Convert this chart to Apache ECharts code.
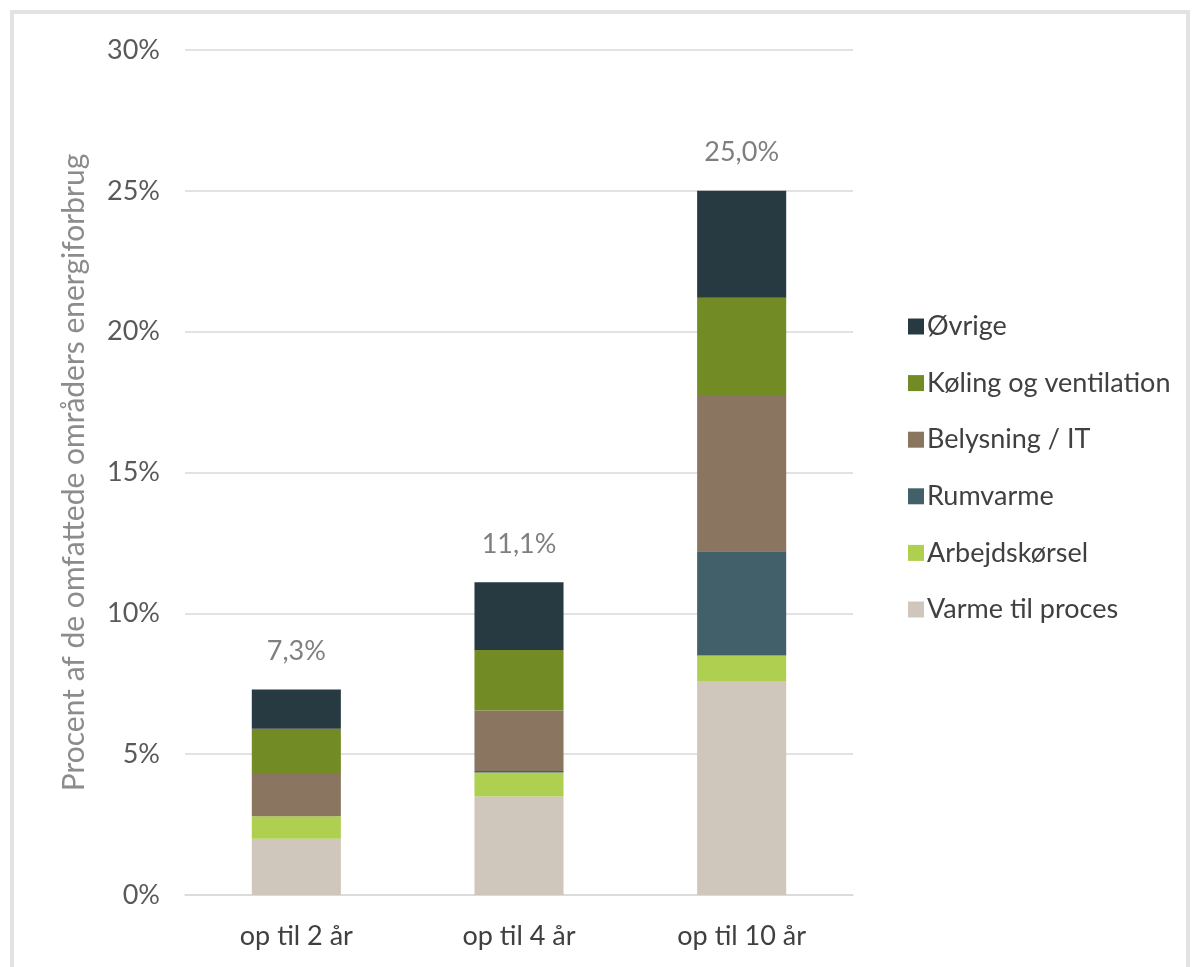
<!DOCTYPE html>
<html>
<head>
<meta charset="utf-8">
<script src="https://cdn.jsdelivr.net/npm/echarts@6/dist/echarts.min.js"></script>
<style>
html,body{margin:0;padding:0;background:#fff;}
#chart{width:1199px;height:967px;}
</style>
</head>
<body>
<div id="chart"></div>
<script>
const categories = ['op til 2 år', 'op til 4 år', 'op til 10 år'];
const varmeTilProces = [2.0, 3.5, 7.6];
const arbejdskorsel = [0.8, 0.85, 0.9];
const rumvarme = [0, 0.05, 3.7];
const belysningIT = [1.5, 2.15, 5.55];
const kolingVentilation = [1.6, 2.15, 3.45];
const ovrige = [1.4, 2.4, 3.8];
const yTicks = [0, 5, 10, 15, 20, 25, 30];

const seriesDefs = [
  {name: 'Varme til proces', data: varmeTilProces, color: '#CFC7BB'},
  {name: 'Arbejdskørsel', data: arbejdskorsel, color: '#AECF50'},
  {name: 'Rumvarme', data: rumvarme, color: '#42606A'},
  {name: 'Belysning / IT', data: belysningIT, color: '#8A7560'},
  {name: 'Køling og ventilation', data: kolingVentilation, color: '#728B24'},
  {name: 'Øvrige', data: ovrige, color: '#283A41'}
];
const totals = categories.map((c, i) => seriesDefs.reduce((s, d) => s + d.data[i], 0));

const FONT = 'Lato';
const FS = 27;
const chart = echarts.init(document.getElementById('chart'));
const series = seriesDefs.map((d, idx) => ({
  name: d.name,
  type: 'bar',
  stack: 'total',
  barWidth: '40%',
  data: d.data,
  itemStyle: {color: d.color},
  label: idx === seriesDefs.length - 1 ? {
    show: true,
    position: 'top',
    distance: 25,
    fontFamily: FONT,
    fontSize: FS,
    color: '#7F7F7F',
    formatter: p => totals[p.dataIndex].toFixed(1).replace('.', ',') + '%'
  } : {show: false}
}));

chart.setOption({
  animation: false,
  backgroundColor: '#fff',
  graphic: [{
    type: 'rect',
    shape: {x: 12, y: 12, width: 1176, height: 1000},
    style: {fill: 'none', stroke: '#E3E3E3', lineWidth: 4},
    silent: true
  }],
  grid: {left: 185, right: 346, top: 50, bottom: 72},
  legend: {
    orient: 'vertical',
    left: 903,
    top: 308,
    itemWidth: 16,
    itemHeight: 16,
    itemGap: 29.6,
    icon: 'rect',
    data: seriesDefs.map(d => d.name).reverse(),
    textStyle: {fontFamily: FONT, fontSize: FS, color: '#404040', lineHeight: 17, padding: [0, 0, 0, -2]}
  },
  xAxis: {
    type: 'category',
    data: categories,
    axisLine: {lineStyle: {color: '#D9D9D9', width: 1.5}},
    axisTick: {show: false},
    axisLabel: {fontFamily: FONT, fontSize: FS, color: '#404040', margin: 28}
  },
  yAxis: {
    type: 'value',
    min: yTicks[0],
    max: yTicks[yTicks.length - 1],
    interval: 5,
    name: 'Procent af de omfattede områders energiforbrug',
    nameLocation: 'middle',
    nameRotate: 90,
    nameGap: 96,
    nameTextStyle: {fontFamily: FONT, fontSize: 30, color: '#8C8C8C'},
    axisLine: {show: false},
    axisTick: {show: false},
    splitLine: {lineStyle: {color: '#D9D9D9', width: 1.5}},
    axisLabel: {fontFamily: FONT, fontSize: FS, color: '#595959', margin: 25, formatter: '{value}%'}
  },
  series: series
});
</script>
</body>
</html>
